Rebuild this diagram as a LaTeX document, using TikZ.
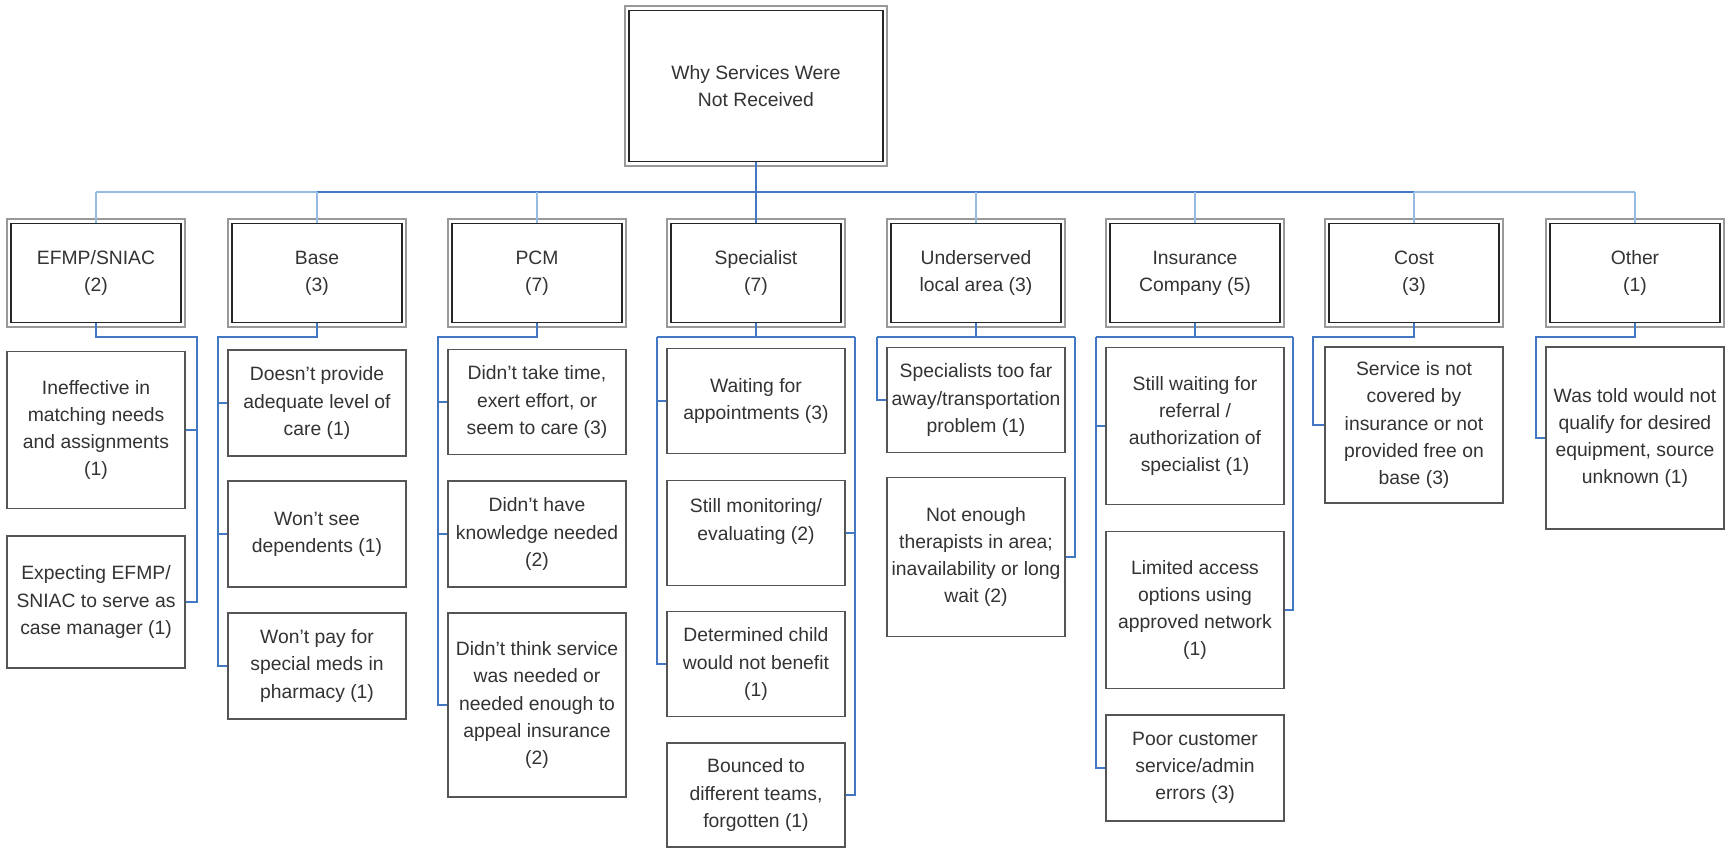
\documentclass[tikz,border=0pt]{standalone}
\usepackage{fontspec}
\setmainfont{Liberation Sans}
\usetikzlibrary{positioning, calc}
\definecolor{orgblue}{RGB}{66,120,196}
\definecolor{paleblue}{RGB}{150,188,228}
\definecolor{boxgray}{RGB}{85,85,85}

\begin{document}
\begin{tikzpicture}[x=0.02cm, y=-0.02cm,
  font=\fontsize{11}{15.4}\selectfont,
  catbox/.style={draw=black!85, line width=1.1pt, fill=white, text=black!80, align=center,
    minimum width=3.4cm, minimum height=1.98cm,
    preaction={draw=black!40, line width=5.8pt},
    preaction={draw=white, line width=3.6pt}},
  childbox/.style={draw=boxgray, line width=0.9pt, fill=white, text=black!80, align=center,
    minimum width=3.56cm, inner sep=1pt},
  link/.style={draw=orgblue, line width=0.9pt},
  drop/.style={draw=paleblue, line width=0.6pt},
  bus/.style={draw=orgblue, line width=1.4pt}]
\fill[white] (0,0) rectangle (1732,848);
\useasboundingbox (0,0) rectangle (1732,848);

% Root
\node[catbox, minimum width=5.08cm, minimum height=3.02cm] (root) at (756,86) {Why Services Were\\Not Received};

% Categories
\node[catbox] (efmp) at (96,273) {EFMP/SNIAC\\(2)};
\node[catbox] (base) at (317,273) {Base\\(3)};
\node[catbox] (pcm) at (537,273) {PCM\\(7)};
\node[catbox] (spec) at (756,273) {Specialist\\(7)};
\node[catbox] (under) at (976,273) {Underserved\\local area (3)};
\node[catbox] (insur) at (1195,273) {Insurance\\Company (5)};
\node[catbox] (cost) at (1414,273) {Cost\\(3)};
\node[catbox] (other) at (1635,273) {Other\\(1)};

% Bus
\coordinate (bus) at (756,192);
\draw[link, line width=1.1pt] (root.south) -- (bus);
\draw[bus] (bus -| base.north) -- (bus -| cost.north);
\draw[drop] (bus -| efmp.north) -- (bus -| base.north);
\draw[drop] (bus -| cost.north) -- (bus -| other.north);
\draw[link] (bus) -- (spec.north);
\draw[drop] (bus -| efmp.north) -- (efmp.north);
\draw[drop] (bus -| base.north) -- (base.north);
\draw[drop] (bus -| pcm.north) -- (pcm.north);
\draw[drop] (bus -| under.north) -- (under.north);
\draw[drop] (bus -| insur.north) -- (insur.north);
\draw[drop] (bus -| cost.north) -- (cost.north);
\draw[drop] (bus -| other.north) -- (other.north);

% EFMP/SNIAC
\node[childbox, minimum height=3.14cm] (efmp1) at (96,430) {Ineffective in\\matching needs\\and assignments\\(1)};
\node[childbox, minimum height=2.64cm] (efmp2) at (96,602) {Expecting EFMP/\\SNIAC to serve as\\case manager (1)};
\coordinate (efmpJ) at (197,337);
\draw[link] (efmp.south) |- (efmpJ) |- (efmp2.east);
\draw[link] (efmpJ |- efmp1.east) -- (efmp1.east);

% Base
\node[childbox, minimum height=2.12cm] (base1) at (317,403) {Doesn't provide\\adequate level of\\care (1)};
\node[childbox, minimum height=2.12cm] (base2) at (317,534) {Won't see\\dependents (1)};
\node[childbox, minimum height=2.12cm] (base3) at (317,666) {Won't pay for\\special meds in\\pharmacy (1)};
\coordinate (baseJ) at (218,337);
\draw[link] (base.south) |- (baseJ) |- (base3.west);
\draw[link] (baseJ |- base1.west) -- (base1.west);
\draw[link] (baseJ |- base2.west) -- (base2.west);

% PCM
\node[childbox, minimum height=2.1cm] (pcm1) at (537,402) {Didn't take time,\\exert effort, or\\seem to care (3)};
\node[childbox, minimum height=2.12cm] (pcm2) at (537,534) {Didn't have\\knowledge needed\\(2)};
\node[childbox, minimum height=3.68cm] (pcm3) at (537,705) {Didn't think service\\was needed or\\needed enough to\\appeal insurance\\(2)};
\coordinate (pcmJ) at (438,337);
\draw[link] (pcm.south) |- (pcmJ) |- (pcm3.west);
\draw[link] (pcmJ |- pcm1.west) -- (pcm1.west);
\draw[link] (pcmJ |- pcm2.west) -- (pcm2.west);

% Specialist
\node[childbox, minimum height=2.1cm] (spec1) at (756,401) {Waiting for\\appointments (3)};
\node[childbox, minimum height=2.1cm] (spec2) at (756,533) {Still monitoring/\\evaluating (2)\\~};
\node[childbox, minimum height=2.1cm] (spec3) at (756,664) {Determined child\\would not benefit\\(1)};
\node[childbox, minimum height=2.08cm] (spec4) at (756,795) {Bounced to\\different teams,\\forgotten (1)};
\coordinate (specL) at (657,337);
\coordinate (specR) at (855,337);
\draw[link] (spec.south) -- (spec.south |- specL);
\draw[link] (specL) -- (specR);
\draw[link] (specL) |- (spec3.west);
\draw[link] (specL |- spec1.west) -- (spec1.west);
\draw[link] (specR) |- (spec4.east);
\draw[link] (specR |- spec2.east) -- (spec2.east);

% Underserved local area
\node[childbox, minimum height=2.1cm] (under1) at (976,400) {Specialists too far\\away/transportation\\problem (1)};
\node[childbox, minimum height=3.18cm] (under2) at (976,557) {Not enough\\therapists in area;\\inavailability or long\\wait (2)};
\coordinate (underL) at (877,337);
\coordinate (underR) at (1075,337);
\draw[link] (under.south) -- (under.south |- underL);
\draw[link] (underL) -- (underR);
\draw[link] (underL) |- (under1.west);
\draw[link] (underR) |- (under2.east);

% Insurance Company
\node[childbox, minimum height=3.14cm] (insur1) at (1195,426) {Still waiting for\\referral /\\authorization of\\specialist (1)};
\node[childbox, minimum height=3.14cm] (insur2) at (1195,610) {Limited access\\options using\\approved network\\(1)};
\node[childbox, minimum height=2.12cm] (insur3) at (1195,768) {Poor customer\\service/admin\\errors (3)};
\coordinate (insurL) at (1096,337);
\coordinate (insurR) at (1293,337);
\draw[link] (insur.south) -- (insur.south |- insurL);
\draw[link] (insurL) -- (insurR);
\draw[link] (insurL) |- (insur3.west);
\draw[link] (insurL |- insur1.west) -- (insur1.west);
\draw[link] (insurR) |- (insur2.east);

% Cost
\node[childbox, minimum height=3.12cm] (cost1) at (1414,425) {Service is not\\covered by\\insurance or not\\provided free on\\base (3)};
\coordinate (costJ) at (1313,337);
\draw[link] (cost.south) |- (costJ) |- (cost1.west);

% Other
\node[childbox, minimum height=3.64cm] (other1) at (1635,438) {Was told would not\\qualify for desired\\equipment, source\\unknown (1)};
\coordinate (otherJ) at (1536,337);
\draw[link] (other.south) |- (otherJ) |- (other1.west);
\end{tikzpicture}
\end{document}
